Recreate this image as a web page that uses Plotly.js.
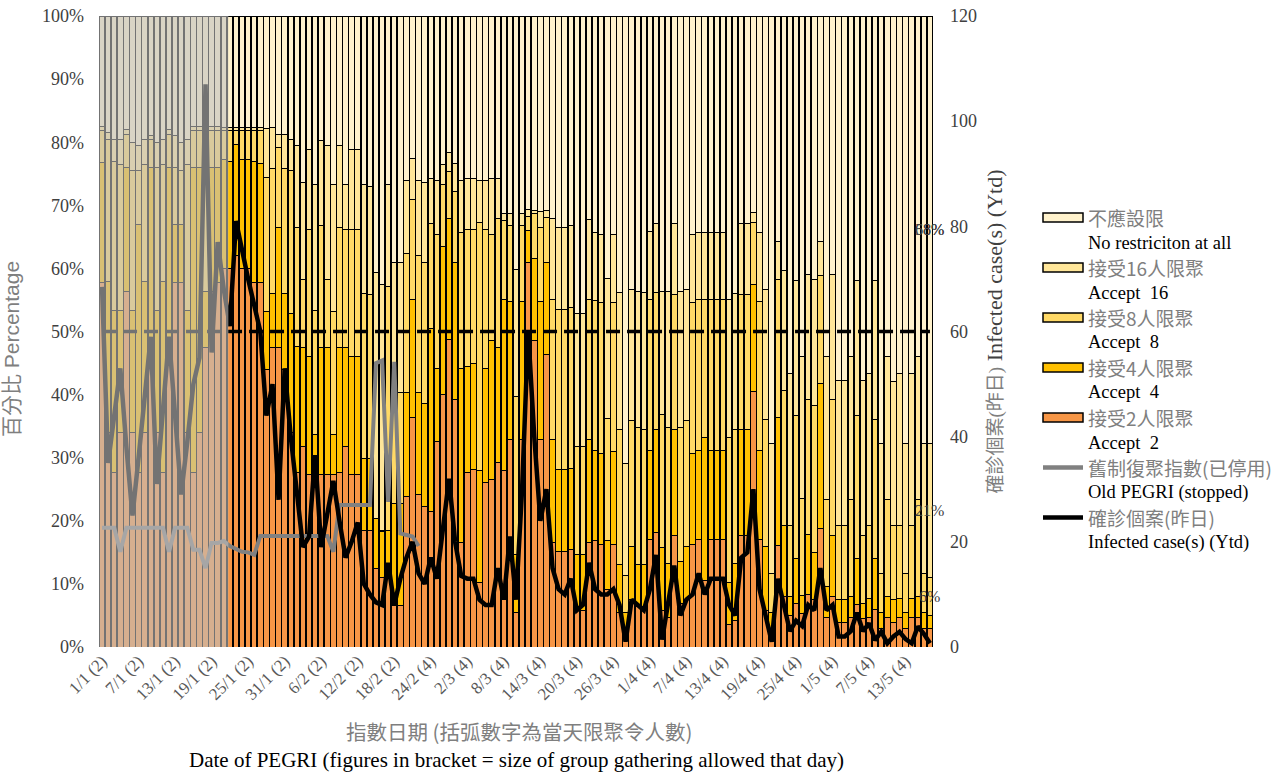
<!DOCTYPE html>
<html>
<head>
<meta charset="utf-8">
<script src="https://cdn.plot.ly/plotly-3.0.1.min.js"></script>
<style>
html,body{margin:0;padding:0;background:#ffffff;}
#chart{width:1287px;height:775px;}
</style>
</head>
<body>
<div id="chart"></div>
<script>
// ---------- categories (one bar per day, 1/1 .. 17/5) ----------
const monthDays = [31, 28, 31, 30, 17];
const dates = [];
monthDays.forEach((n, m) => { for (let d = 1; d <= n; d++) dates.push(d + '/' + (m + 1)); });

// ---------- x tick labels ----------
const tickDates = ['1/1','7/1','13/1','19/1','25/1','31/1','6/2','12/2','18/2','24/2','2/3','8/3','14/3','20/3','26/3','1/4','7/4','13/4','19/4','25/4','1/5','7/5','13/5'];
const tickText  = ['1/1 (2)','7/1 (2)','13/1 (2)','19/1 (2)','25/1 (2)','31/1 (2)','6/2 (2)','12/2 (2)','18/2 (2)','24/2 (4)','2/3 (4)','8/3 (4)','14/3 (4)','20/3 (4)','26/3 (4)','1/4 (4)','7/4 (4)','13/4 (4)','19/4 (4)','25/4 (4)','1/5 (4)','7/5 (4)','13/5 (4)'];
const pctTicks = [0,10,20,30,40,50,60,70,80,90,100];
const pctTickText = ['0%','10%','20%','30%','40%','50%','60%','70%','80%','90%','100%'];

// ---------- stacked levels (cumulative %, top of each band) ----------
const accept2Top = [
57.7,34.0,27.6,34.0,56.3,34.0,27.6,34.0,47.5,34.0,27.6,47.5,57.7,57.7,34.0,27.6,34.0,47.5,56.3,57.7,
60.0,60.0,62.0,60.0,60.0,57.8,57.8,
44.0,47.5,47.4,44.0,34.0,27.6,31.8,27.4,27.4,27.4,27.4,27.4,27.7,31.8,27.4,27.4,18.4,18.4,12.4,11.0,11.0,6.6,6.6,
23.9,36.4,24.1,22.2,21.4,32.5,40.0,48.7,39.2,16.5,27.7,28.2,10.2,26.1,26.6,29.3,28.0,32.9,5.5,32.9,61.0,48.5,32.9,46.3,
16.5,15.1,15.1,15.5,5.8,5.8,16.5,16.8,16.2,9.1,16.2,5.5,2.5,7.5,6.4,6.4,17.0,18.1,5.8,4.7,17.7,6.9,7.5,16.2,17.0,10.5,
17.0,17.0,17.0,3.6,4.2,17.7,17.7,40.5,17.0,5.8,3.0,16.1,8.0,5.0,6.9,5.3,8.3,7.5,18.8,4.7,8.0,3.9,3.9,4.7,6.8,4.5,4.7,
6.0,3.0,4.7,3.9,4.7,3.0,4.7,4.7,3.0,3.0];
const accept4Top = [
76.8,58.0,53.3,53.3,76.0,53.3,66.9,58.0,76.0,53.3,58.0,76.0,66.9,66.9,53.3,76.0,76.0,56.3,76.0,76.0,
77.2,76.9,79.6,77.2,77.2,76.9,76.6,
53.1,56.1,66.5,56.1,52.8,47.6,47.4,46.0,33.7,47.4,47.4,33.7,47.4,47.4,46.0,46.0,29.9,29.9,20.3,18.3,18.4,22.8,22.7,
40.3,55.0,40.3,38.6,50.4,44.1,63.5,67.9,61.0,44.1,44.4,44.9,28.0,44.1,48.5,47.4,55.0,54.7,14.6,54.7,66.0,61.6,54.7,61.0,
32.9,28.2,28.2,28.3,14.6,14.6,32.9,31.2,30.7,16.8,31.0,13.0,5.5,15.9,13.0,13.0,31.2,34.5,15.7,13.2,34.4,13.5,15.9,30.7,31.2,33.2,
31.2,31.2,31.2,10.2,13.2,34.4,34.4,57.5,31.2,15.9,5.5,36.4,19.2,8.0,14.0,8.1,17.8,15.0,41.8,9.6,17.7,7.5,7.5,8.0,14.0,6.9,7.7,
14.0,5.5,8.0,7.5,7.7,5.5,7.7,8.0,5.5,5.0];
const accept8Top = [
81.8,80.5,77.0,76.5,81.3,75.5,75.5,76.5,80.5,76.0,76.5,81.3,76.0,75.5,76.5,81.8,81.8,76.0,81.8,81.8,
81.8,81.8,81.8,81.8,81.8,81.8,81.8,
74.4,75.8,79.1,75.8,75.5,66.5,58.3,66.2,53.4,66.8,58.3,53.1,66.5,66.2,66.2,66.2,56.1,55.9,20.4,18.4,57.2,38.6,40.3,
62.4,70.9,62.1,61.0,67.1,65.4,73.3,75.3,72.2,65.7,66.2,66.2,67.3,66.2,65.4,67.9,67.6,66.8,39.7,66.8,68.2,68.7,66.5,68.1,
55.0,53.5,53.5,53.8,31.8,31.8,55.1,54.9,54.6,36.2,54.6,34.5,11.3,35.9,34.8,34.5,55.0,56.2,36.9,34.8,55.9,34.8,35.9,54.6,55.0,55.0,
55.0,55.0,55.0,33.2,34.5,55.9,55.9,67.3,54.7,36.0,11.6,58.3,40.7,19.2,36.7,23.6,39.2,38.2,58.9,23.4,39.2,19.2,19.2,23.4,36.7,17.6,19.2,
36.0,11.7,23.4,19.2,19.2,11.6,19.2,23.4,11.6,11.0];
const accept16Top = [
82.5,81.5,80.5,80.5,82.0,80.0,79.5,80.5,81.0,80.0,80.5,82.0,81.0,80.0,80.5,82.5,82.5,80.5,82.5,82.5,
82.4,82.4,82.4,82.4,82.4,82.4,82.4,
82.1,82.4,81.3,81.3,80.5,79.4,73.6,78.8,73.3,80.2,79.4,73.3,79.4,73.3,78.8,78.8,73.3,73.0,59.4,57.5,73.3,61.0,61.0,
73.9,77.4,73.9,73.6,74.2,73.9,76.4,78.3,76.6,73.9,74.2,74.2,73.9,73.9,74.2,74.2,68.7,68.7,59.9,68.7,69.3,69.2,69.0,69.2,
67.9,66.5,66.5,66.8,52.9,52.9,67.7,65.7,65.4,58.4,65.4,56.2,29.1,56.6,56.4,56.2,65.9,67.1,56.4,56.4,67.1,56.4,56.6,65.4,65.7,65.7,
65.7,65.7,65.7,55.0,56.1,67.1,67.1,68.8,65.7,56.6,32.3,64.2,59.7,43.3,58.1,46.0,59.1,58.3,64.2,46.0,59.1,42.3,42.3,46.0,58.1,42.2,43.3,
58.1,32.3,46.0,42.0,43.3,32.3,43.3,46.0,32.3,32.3];

// ---------- line series ----------
const oldPegri = [
18.9,18.9,18.9,15.1,18.9,18.9,18.9,18.9,18.9,18.9,18.9,15.1,18.9,18.9,18.9,15.4,15.4,12.5,16.5,16.5,
16.8,16.0,15.5,15.1,15.0,14.6,17.6,
17.6,17.6,17.6,17.6,17.6,17.6,17.6,17.6,17.6,17.6,17.6,15.1,22.5,22.5,22.5,22.5,22.5,22.5,45.0,45.4,23.0,45.2,18.0,
17.8,17.5,16.0];
const infected = [
68.5,35,44,53,38,25,36,47,59,31,45,59,44,29,39,50,55,107,56,77,
68,61,81,75,70,65,60,
44,50,28,53,40,29,19,21,36.5,19,25,31.6,24,17,20,23.7,12,10,8.5,8,16,8,13,
17,20,14,12,17,13,22,32,20,13.5,13,13,9,8,8,15,9,21,9,30,60,40,24,30,
15,11,10,13,7,8,16,11,10,10,11,8,1,9,8,7,11,17.5,1.4,8,15.5,6,9,10,14,10,
13,13,13,8,6,17,18,30,11,6,1,13,8,3,5,4,8,7,15,7,8,2,2,3,6.5,3,4.5,
1.3,2.9,0.7,2,2.9,1.5,0.7,3.9,2.5,0.7];
const thresholdPct = 50;

// ---------- band shares derived from the levels ----------
const share2  = accept2Top.slice();
const share4  = accept4Top.map((v, i) => +(v - accept2Top[i]).toFixed(1));
const share8  = accept8Top.map((v, i) => +(v - accept4Top[i]).toFixed(1));
const share16 = accept16Top.map((v, i) => +(v - accept8Top[i]).toFixed(1));
const shareNone = accept16Top.map(v => +(100 - v).toFixed(1));

const COLORS = {none:'#FFF2CC', a16:'#FFE699', a8:'#FFD966', a4:'#FFC000', a2:'#F79646'};
const SERIF = "'Liberation Serif', 'Noto Sans CJK TC', serif";
const CJK = "'Noto Sans CJK TC', 'Liberation Serif', sans-serif";
const SANS = "'Liberation Sans', 'Noto Sans CJK TC', sans-serif";

function barTrace(y, color, name) {
  return {type:'bar', x:dates, y:y, name:name, yaxis:'y',
          marker:{color:color, line:{color:'#000000', width:1}}, hoverinfo:'skip', showlegend:false};
}

const traces = [
  barTrace(share2, COLORS.a2, '接受2人限聚'),
  barTrace(share4, COLORS.a4, '接受4人限聚'),
  barTrace(share8, COLORS.a8, '接受8人限聚'),
  barTrace(share16, COLORS.a16, '接受16人限聚'),
  barTrace(shareNone, COLORS.none, '不應設限'),
  {type:'scatter', mode:'lines', x:dates, y:dates.map(() => thresholdPct), yaxis:'y',
   line:{color:'#000000', width:3.5, dash:'14px,7px'}, hoverinfo:'skip', showlegend:false},
  {type:'scatter', mode:'lines', x:dates.slice(0, oldPegri.length), y:oldPegri, yaxis:'y', name:'舊制復聚指數(已停用)',
   line:{color:'#808080', width:4}, hoverinfo:'skip', showlegend:false},
  {type:'scatter', mode:'lines', x:dates, y:infected, yaxis:'y2', name:'確診個案(昨日)',
   line:{color:'#000000', width:4.5}, hoverinfo:'skip', showlegend:false}
];

// ---------- layout helpers (pixel -> paper) ----------
const PL = 99, PR = 933, PT = 16, PB = 647;
const px2x = p => (p - PL) / (PR - PL);
const py2y = p => (PB - p) / (PB - PT);

const legendItems = [
  {zh:'不應設限', en:'No restriciton at all', color:COLORS.none, kind:'bar'},
  {zh:'接受16人限聚', en:'Accept&nbsp; 16', color:COLORS.a16, kind:'bar'},
  {zh:'接受8人限聚', en:'Accept&nbsp; 8', color:COLORS.a8, kind:'bar'},
  {zh:'接受4人限聚', en:'Accept&nbsp; 4', color:COLORS.a4, kind:'bar'},
  {zh:'接受2人限聚', en:'Accept&nbsp; 2', color:COLORS.a2, kind:'bar'},
  {zh:'舊制復聚指數(已停用)', en:'Old PEGRI (stopped)', color:'#808080', kind:'line'},
  {zh:'確診個案(昨日)', en:'Infected case(s) (Ytd)', color:'#000000', kind:'line'}
];

const shapes = [
  // grey veil over the period of the old index
  {type:'rect', xref:'x', yref:'y', x0:-0.5, x1:20.75, y0:0, y1:100,
   fillcolor:'rgba(192,192,192,0.6)', line:{width:0}, layer:'above'}
];
const annotations = [];

legendItems.forEach((it, k) => {
  const yc = 217.5 + 50 * k;
  if (it.kind === 'bar') {
    shapes.push({type:'rect', xref:'paper', yref:'paper', x0:px2x(1043), x1:px2x(1083),
                 y0:py2y(yc + 4.5), y1:py2y(yc - 4.5), fillcolor:it.color, line:{color:'#000000', width:1.5}});
  } else {
    shapes.push({type:'line', xref:'paper', yref:'paper', x0:px2x(1043), x1:px2x(1083),
                 y0:py2y(yc), y1:py2y(yc), line:{color:it.color, width:4.5}});
  }
  annotations.push({xref:'paper', yref:'paper', x:px2x(1086), y:py2y(yc), xanchor:'left', yanchor:'middle',
                    text:it.zh, showarrow:false, font:{family:CJK, size:19, color:'#7F7F7F'}});
  annotations.push({xref:'paper', yref:'paper', x:px2x(1086), y:py2y(yc + 25), xanchor:'left', yanchor:'middle',
                    text:it.en, showarrow:false, font:{family:SERIF, size:18.5, color:'#000000'}});
});

// x-axis title (two lines)
annotations.push({xref:'paper', yref:'paper', x:px2x(519), y:py2y(731), xanchor:'center', yanchor:'middle',
  text:'指數日期 (括弧數字為當天限聚令人數)', showarrow:false, font:{family:CJK, size:20.5, color:'#7F7F7F'}});
annotations.push({xref:'paper', yref:'paper', x:px2x(516), y:py2y(760), xanchor:'center', yanchor:'middle',
  text:'Date of PEGRI (figures in bracket = size of group gathering allowed that day)', showarrow:false,
  font:{family:SERIF, size:21, color:'#000000'}});

// data labels of the last bar
const last = dates.length - 1;
const labelFont = {family:SERIF, size:16, color:'#404040'};
[
  {y: accept16Top[last] + shareNone[last] / 2, t: Math.round(shareNone[last]) + '%'},
  {y: accept16Top[last] + shareNone[last] / 2, t: '58%'},
  {y: accept8Top[last] + share16[last] / 2, t: Math.round(share16[last]) + '%'},
  {y: accept4Top[last] + share8[last] / 2, t: Math.round(share8[last]) + '%'}
].forEach(l => annotations.push({xref:'x', yref:'y', x:last, y:l.y, text:l.t, showarrow:false,
  xanchor:'center', yanchor:'middle', font:labelFont}));

const layout = {
  width:1287, height:775,
  font:{family:SERIF, size:18, color:'#404040'},
  margin:{l:PL, r:1287 - PR, t:PT, b:775 - PB, pad:0},
  paper_bgcolor:'#ffffff', plot_bgcolor:'#ffffff',
  barmode:'stack', bargap:0.1,
  showlegend:false, hovermode:false,
  xaxis:{type:'category', range:[-0.5, dates.length - 0.5], tickmode:'array', tickvals:tickDates, ticktext:tickText,
         tickangle:-45, tickfont:{family:SERIF, size:17, color:'#595959'}, showgrid:false, zeroline:false,
         showline:false, ticks:'', automargin:false, fixedrange:true},
  yaxis:{range:[0, 100], tickmode:'array', tickvals:pctTicks, ticktext:pctTickText, showgrid:false, zeroline:false,
         showline:false, ticks:'', tickfont:{family:SERIF, size:18, color:'#404040'}, ticklabelstandoff:14,
         automargin:false, fixedrange:true,
         title:{text:'百分比 Percentage&nbsp;&nbsp;&nbsp;&nbsp;&nbsp;&nbsp;', font:{family:SANS, size:21, color:'#7F7F7F'}, standoff:16}},
  yaxis2:{overlaying:'y', side:'right', range:[0, 120], dtick:20, showgrid:false, zeroline:false, showline:false,
          ticks:'', tickfont:{family:SERIF, size:18, color:'#404040'}, ticklabelstandoff:16,
          automargin:false, fixedrange:true,
          title:{text:'<span style="color:#7F7F7F;font-size:19px">確診個案(昨日)</span> Infected case(s) (Ytd)',
                 font:{family:SERIF, size:22, color:'#404040'}, standoff:10}},
  shapes:shapes,
  annotations:annotations
};

Plotly.newPlot('chart', traces, layout, {displayModeBar:false, staticPlot:true});
</script>
</body>
</html>
